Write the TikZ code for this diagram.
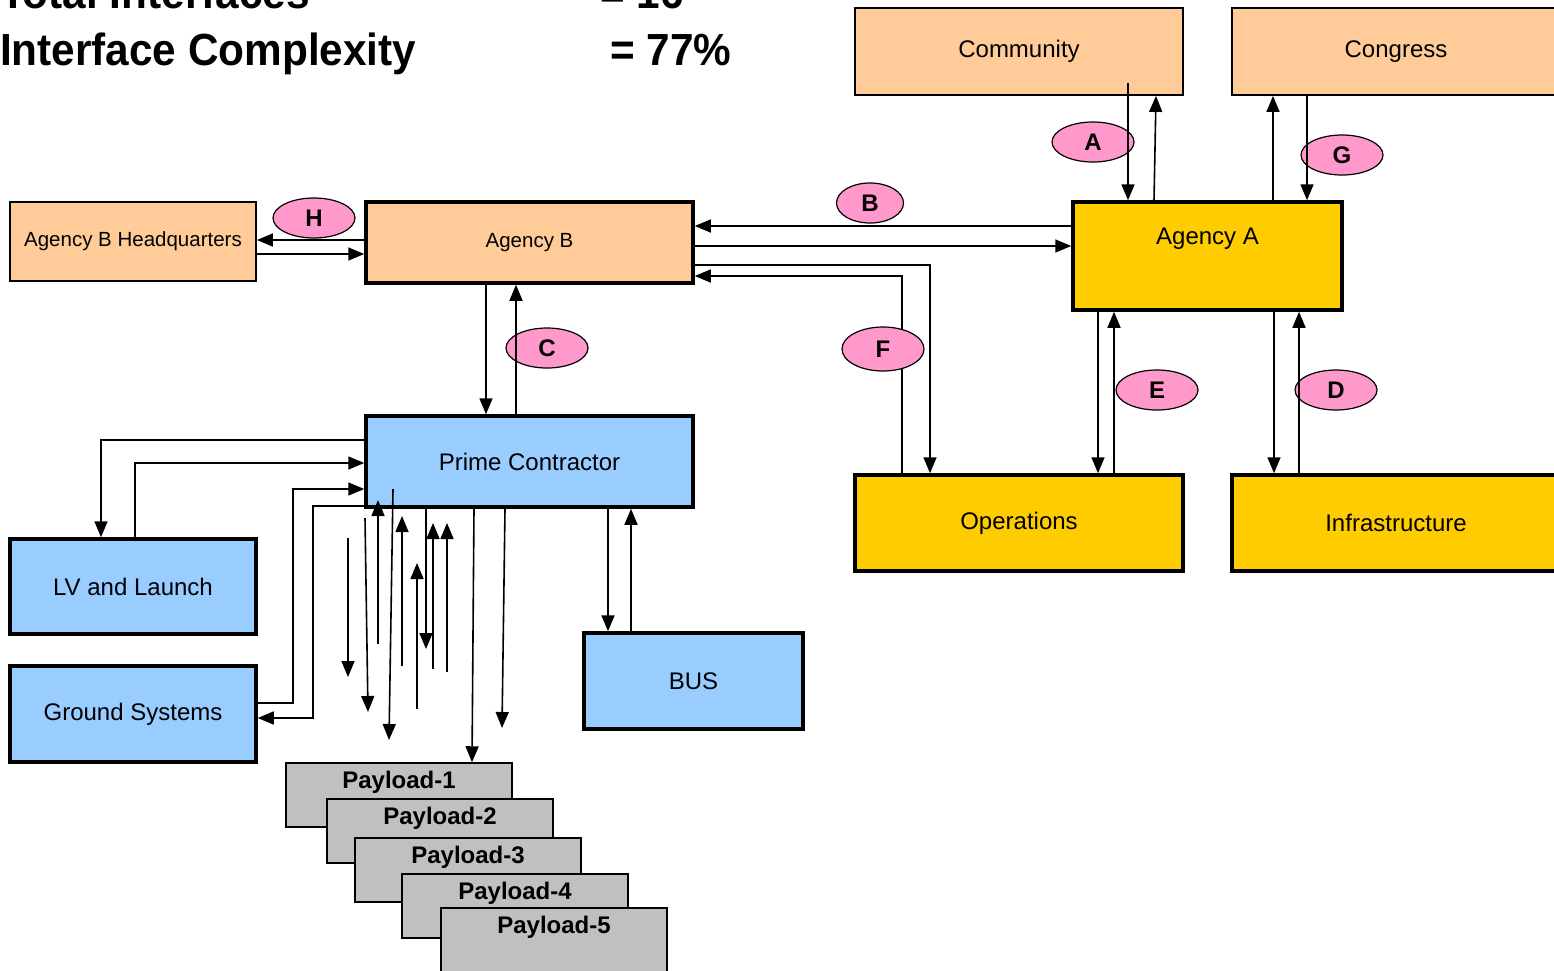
\documentclass[tikz,border=0pt]{standalone}
\usepackage{fontspec}
\usepackage{graphicx}
\setmainfont{Liberation Sans}
\usetikzlibrary{arrows.meta,fit,shapes.geometric}

\definecolor{peach}{HTML}{FFCC99}
\definecolor{gold}{HTML}{FFCC00}
\definecolor{skyblue}{HTML}{99CCFF}
\definecolor{paygray}{HTML}{C0C0C0}
\definecolor{tagpink}{HTML}{FF99CC}

\tikzset{
  boxtext/.style={inner sep=0pt, font=\fontsize{24}{28}\selectfont},
  smalltext/.style={inner sep=0pt, font=\fontsize{20.5}{24}\selectfont},
  box/.style={draw, inner sep=0pt},
  thinbox/.style={box, line width=1.8pt},
  thickbox/.style={box, line width=3.5pt},
  paybox/.style={draw, inner sep=0pt, line width=1.5pt, fill=paygray},
  paytext/.style={inner sep=0pt, font=\bfseries\fontsize{24}{28}\selectfont},
  tag/.style={ellipse, draw, line width=1.2pt, fill=tagpink, minimum width=82pt,
    minimum height=40pt, inner sep=0pt, font=\bfseries\fontsize{24}{28}\selectfont},
  headline/.style={anchor=base west, inner sep=0pt, font=\bfseries\fontsize{45}{50}\selectfont},
  arr/.style={line width=1.6pt, -{Triangle[length=16pt,width=13pt]}},
}

\begin{document}
\begin{tikzpicture}[x=1pt, y=-1pt]
  \useasboundingbox (0,0) rectangle (1554,970);
  \clip (0,0) rectangle (1554,970);

  % --- headline figures
  \node[headline] (ttot) at (0,8) {\scalebox{0.94}[1]{Total Interfaces}};
  \node[headline] (tnum) at (600,8) {\scalebox{0.94}[1]{= 16}};
  \node[headline] (tcplx) at (0,65) {\scalebox{0.94}[1]{Interface Complexity}};
  \node[headline] (tpct) at (610,65) {\scalebox{0.94}[1]{= 77\%}};

  % --- organisations
  \node[thinbox, fill=peach, fit={(855,8)(1183,95)},
    label={[boxtext]center:Community}] (comm) {};
  \node[thinbox, fill=peach, fit={(1232,8)(1560,95)},
    label={[boxtext]center:Congress}] (cong) {};
  \node[thinbox, fill=peach, fit={(10,202)(256,281)},
    label={[smalltext]center:Agency B Headquarters}] (agbhq) {};
  \node[thickbox, fill=peach, fit={(366,202)(693,283)},
    label={[smalltext]center:Agency B}] (agb) {};
  \node[thickbox, fill=gold, fit={(1073,202)(1342,310)}] (aga) {};
  \node[boxtext] (agatxt) at ([yshift=-38pt]aga.north) {Agency A};
  \node[thickbox, fill=gold, fit={(855,475)(1183,571)},
    label={[boxtext]center:Operations}] (ops) {};
  \node[thickbox, fill=gold, fit={(1232,475)(1560,571)},
    label={[boxtext]center:Infrastructure}] (infra) {};

  % --- contractor side
  \node[thickbox, fill=skyblue, fit={(366,416)(693,507)},
    label={[boxtext]center:Prime Contractor}] (prime) {};
  \node[thickbox, fill=skyblue, fit={(10,539)(256,634)},
    label={[boxtext]center:LV and Launch}] (lv) {};
  \node[thickbox, fill=skyblue, fit={(10,666)(256,762)},
    label={[boxtext]center:Ground Systems}] (gnd) {};
  \node[thickbox, fill=skyblue, fit={(584,633)(803,729)},
    label={[boxtext]center:BUS}] (bus) {};

  \foreach \x/\y [count=\i] in {286/763, 327/799, 355/838, 402/874, 441/908}{
    \node[paybox, fit={(\x,\y)(\x+226,\y+64)}] (pay\i) {};
    \node[paytext] (paytxt\i) at ([yshift=-20pt]pay\i.north) {Payload-\i};
  }

  % --- interface tags
  \node[tag] (tagA) at (1093,142) {A};
  \node[tag, minimum width=67pt] (tagB) at (870,203) {B};
  \node[tag] (tagC) at (547,348) {C};
  \node[tag] (tagD) at (1336,390) {D};
  \node[tag] (tagE) at (1157,390) {E};
  \node[tag] (tagG) at (1342,155) {G};
  \node[tag] (tagH) at (314,218) {H};

  % --- A, G
  \draw[arr] (comm.south -| 1128,0) ++(0,-13) -- (aga.north -| 1128,0);
  \draw[arr] (aga.north -| 1154,0) -- (comm.south -| 1156,0);
  \draw[arr] (aga.north -| 1273,0) -- (cong.south -| 1273,0);
  \draw[arr] (cong.south -| 1307,0) -- (aga.north -| 1307,0);

  % --- B, F
  \draw[arr] (aga.west |- 0,226) -- (agb.east |- 0,226);
  \draw[arr] (agb.east |- 0,246) -- (aga.west |- 0,246);
  \draw[arr] (agb.east |- 0,265) -| (ops.north -| 930,0);
  \draw[arr] (ops.north -| 902,0) |- (agb.east |- 0,276);
  \node[tag, minimum height=44pt] (tagF) at (883,349) {F};

  % --- E, D
  \draw[arr] (aga.south -| 1098,0) -- (ops.north -| 1098,0);
  \draw[arr] (ops.north -| 1114,0) -- (aga.south -| 1114,0);
  \draw[arr] (aga.south -| 1274,0) -- (infra.north -| 1274,0);
  \draw[arr] (infra.north -| 1299,0) -- (aga.south -| 1299,0);

  % --- C, H
  \draw[arr] (agb.south -| 486,0) -- (prime.north -| 486,0);
  \draw[arr] (prime.north -| 516,0) -- (agb.south -| 516,0);
  \draw[arr] (agb.west |- 0,240) -- (agbhq.east |- 0,240);
  \draw[arr] (agbhq.east |- 0,254) -- (agb.west |- 0,254);

  % --- launch and ground
  \draw[arr] (prime.west |- 0,440) -| (lv.north -| 101,0);
  \draw[arr] (lv.north -| 135,0) |- (prime.west |- 0,463);
  \draw[arr] (gnd.east |- 0,703) -| (293,489) -- (prime.west |- 0,489);
  \draw[arr] (prime.west |- 0,506) -| (313,718) -- (gnd.east |- 0,718);

  % --- payload links
  \foreach \xa/\ya/\xb/\yb [count=\i] in {348/538/348/677, 365/518/368/712,
      378/644/378/500, 393/489/389/740, 402/666/402/516, 417/709/417/563,
      426/509/426/649, 433/669/433/523, 447/672/447/523, 505/509/502/728}{
    \coordinate (ls\i) at (\xa,\ya);
    \coordinate (le\i) at (\xb,\yb);
    \draw[arr] (ls\i) -- (le\i);
  }
  \draw[arr] (prime.south -| 474,0) -- (pay1.north -| 472,0);

  % --- bus
  \draw[arr] (prime.south -| 608,0) -- (bus.north -| 608,0);
  \draw[arr] (bus.north -| 631,0) -- (prime.south -| 631,0);
\end{tikzpicture}
\end{document}
